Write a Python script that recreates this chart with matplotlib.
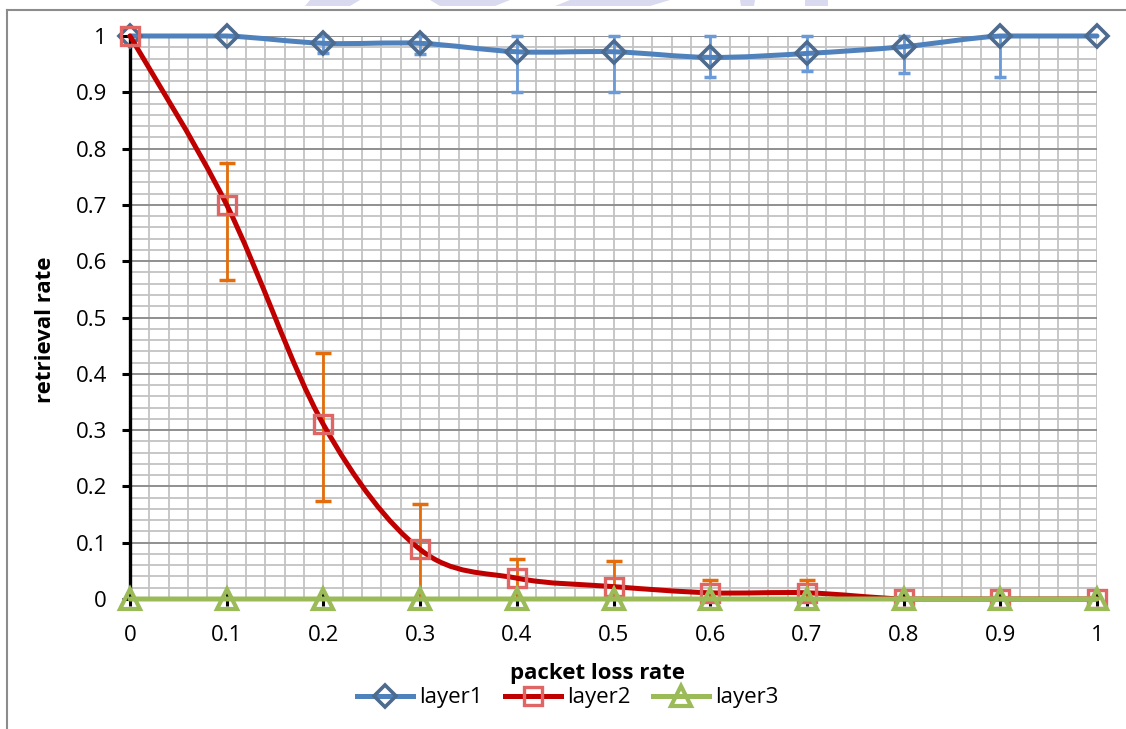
import numpy as np
import matplotlib
matplotlib.use("Agg")
import matplotlib.pyplot as plt
from matplotlib.path import Path
from matplotlib.patches import PathPatch, Polygon
from matplotlib.lines import Line2D
from matplotlib.ticker import MultipleLocator

plt.rcParams['font.family'] = ['Open Sans', 'DejaVu Sans']

# packet loss rate on x, retrieval rate on y
loss_rate = [0, 0.1, 0.2, 0.3, 0.4, 0.5, 0.6, 0.7, 0.8, 0.9, 1.0]

layer1 = [1.0, 1.0, 0.987, 0.987, 0.972, 0.972, 0.962, 0.969, 0.981, 1.0, 1.0]
layer1_low = [1.0, 1.0, 0.969, 0.968, 0.900, 0.900, 0.927, 0.938, 0.934, 0.927, 1.0]
layer1_high = [1.0, 1.0, 1.0, 1.0, 1.0, 1.0, 1.0, 1.0, 1.0, 1.0, 1.0]

layer2 = [1.0, 0.70, 0.31, 0.088, 0.037, 0.022, 0.011, 0.011, 0.0, 0.0, 0.0]
layer2_low = [1.0, 0.567, 0.174, 0.0, 0.0, 0.0, 0.0, 0.0, 0.0, 0.0, 0.0]
layer2_high = [1.0, 0.774, 0.437, 0.169, 0.071, 0.067, 0.034, 0.034, 0.0, 0.0, 0.0]

layer3 = [0.0, 0.0, 0.0, 0.0, 0.0, 0.0, 0.0, 0.0, 0.0, 0.0, 0.0]

x_ticks = [0, 0.1, 0.2, 0.3, 0.4, 0.5, 0.6, 0.7, 0.8, 0.9, 1]
y_ticks = [0, 0.1, 0.2, 0.3, 0.4, 0.5, 0.6, 0.7, 0.8, 0.9, 1]

FS = 16


def smooth_path(xs, ys, lo=0.0, hi=1.0):
    # spreadsheet-style smoothed line: cubic bezier through every point,
    # control points kept inside the axis range
    p = np.column_stack([xs, ys]).astype(float)
    n = len(p)
    verts = [p[0]]
    codes = [Path.MOVETO]
    for i in range(n - 1):
        p0 = p[max(i - 1, 0)]
        p1 = p[i]
        p2 = p[i + 1]
        p3 = p[min(i + 2, n - 1)]
        c1 = p1 + (p2 - p0) / 6.0
        c2 = p2 - (p3 - p1) / 6.0
        c1[1] = np.clip(c1[1], lo, hi)
        c2[1] = np.clip(c2[1], lo, hi)
        verts += [c1, c2, p2]
        codes += [Path.CURVE4] * 3
    return Path(verts, codes)


def draw_errors(ax, xs, ys, low, high, color, capsize, lw):
    xs = np.array(xs)
    ys = np.array(ys)
    low = np.array(low)
    high = np.array(high)
    keep = (ys - low > 0) | (high - ys > 0)
    ax.errorbar(xs[keep], ys[keep], yerr=[ys[keep] - low[keep], high[keep] - ys[keep]],
                fmt='none', ecolor=color, elinewidth=lw, capsize=capsize,
                capthick=lw + 0.5, zorder=3, clip_on=False)


fig = plt.figure(figsize=(11.26, 7.29), dpi=100)
W, H = 1126, 729
ax = fig.add_axes([130 / W, 1 - 599 / H, (1097 - 130) / W, (599 - 36) / H])

ax.set_xlim(0, 1)
ax.set_ylim(0, 1)
ax.set_axisbelow(True)

ax.xaxis.set_minor_locator(MultipleLocator(0.02))
ax.yaxis.set_minor_locator(MultipleLocator(0.02))
ax.set_xticks(x_ticks)
ax.set_yticks(y_ticks)
ax.set_xticklabels([f"{v:g}" for v in x_ticks])
ax.set_yticklabels([f"{v:g}" for v in y_ticks])

ax.grid(which='minor', axis='both', color='#c3c3c3', lw=1.3)
ax.grid(which='major', axis='x', color='#c3c3c3', lw=1.3)
ax.grid(which='major', axis='y', color='#8f8f8f', lw=1.4)

for side in ('top', 'right'):
    ax.spines[side].set_visible(False)
ax.spines['left'].set_color('black')
ax.spines['left'].set_linewidth(2.4)
ax.spines['bottom'].set_color('black')
ax.spines['bottom'].set_linewidth(1.5)

ax.tick_params(axis='y', which='major', direction='out', length=5.5, width=2.2,
               pad=11, labelsize=FS, color='black')
ax.tick_params(axis='x', which='major', direction='inout', length=10, width=2.2,
               pad=14, labelsize=FS, color='black')
ax.tick_params(which='minor', length=0)

# error bars sit underneath the lines
draw_errors(ax, loss_rate, layer1, layer1_low, layer1_high, '#6a9bd8', 4.2, 2.0)
draw_errors(ax, loss_rate, layer2, layer2_low, layer2_high, '#e46c0a', 5.8, 2.0)

series = [
    (layer1, '#4f81bd', 'D', 11.0, '#4d6b8e', 2.6, 'layer1'),
    (layer2, '#c00000', 's', 13.0, '#e06666', 2.4, 'layer2'),
    (layer3, '#9bbb59', '^', 14.5, '#9bbb59', 3.0, 'layer3'),
]

handles = []
z = 4
for ys, lc, mk, ms, mc, mew, name in series:
    ax.add_patch(PathPatch(smooth_path(loss_rate, ys), fill=False, edgecolor=lc,
                           lw=3.6, capstyle='round', joinstyle='round',
                           zorder=z, clip_on=False))
    ax.plot(loss_rate, ys, ls='none', marker=mk, ms=ms, mfc='none', mec=mc,
            mew=mew, zorder=z + 0.5, clip_on=False)
    handles.append(Line2D([], [], color=lc, lw=3.6, marker=mk, ms=ms,
                          mfc='none', mec=mc, mew=mew, label=name))
    z += 1

fig.text(46 / W, 1 - 330 / H, 'retrieval rate', rotation=90, ha='center',
         va='center', fontsize=FS, fontweight='bold')
fig.text(598 / W, 1 - 674 / H, 'packet loss rate', ha='center', va='center',
         fontsize=FS, fontweight='bold')

fig.legend(handles=handles, loc='center', bbox_to_anchor=(568 / W, 1 - 698 / H),
           ncol=3, frameon=False, fontsize=FS, handlelength=2.5,
           handletextpad=0.3, columnspacing=1.0, borderpad=0.1)

# chart frame edges
fig.add_artist(Line2D([7 / W, 7 / W], [0, 1 - 10 / H], color='#8c8c8c', lw=1.5))
fig.add_artist(Line2D([7 / W, 1], [1 - 10 / H, 1 - 10 / H], color='#8c8c8c', lw=1.5))

# faint page watermark showing above the chart frame
for pts in ([(310, 0), (360, 0), (350, 6), (305, 6)],
            [(430, 0), (510, 0), (495, 6), (440, 6)],
            [(570, 0), (670, 0), (650, 6), (555, 6)],
            [(740, 0), (755, 0), (754, 6), (741, 6)],
            [(805, 0), (828, 0), (828, 6), (805, 6)]):
    fig.add_artist(Polygon([(px / W, 1 - py / H) for px, py in pts],
                           closed=True, transform=fig.transFigure,
                           facecolor='#d9d9ef', edgecolor='none'))

fig.savefig('out.png', dpi=100)
